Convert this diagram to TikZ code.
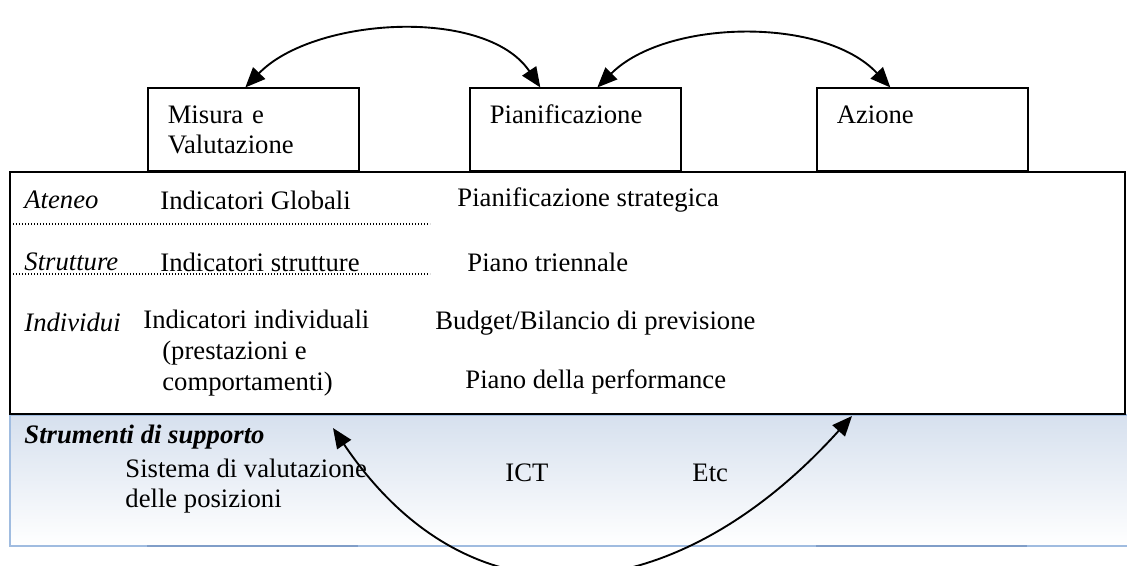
\documentclass[tikz,border=0pt]{standalone}
\usepackage{fontspec}
\setmainfont{Liberation Serif}
\usetikzlibrary{arrows.meta,calc}
\definecolor{bandtop}{RGB}{214,224,238}
\definecolor{bandline}{RGB}{160,188,224}
\definecolor{bandedge}{RGB}{128,158,200}
\newcommand{\fs}{\fontsize{12}{13.8}\selectfont}

\tikzset{
  txt/.style={anchor=west,inner sep=0pt,font=\fs,align=left},
  lvl/.style={txt,font=\fs\itshape},
  topbox/.style={draw,line width=0.7pt,anchor=south west,minimum width=95pt,
    minimum height=37.35pt,text width=77pt,inner xsep=9pt,inner ysep=0pt,
    align=left,font=\fs},
  link/.style={line width=0.85pt,
    {Triangle[length=9pt,width=7.5pt]}-{Triangle[length=9pt,width=7.5pt]}},
}

\begin{document}
\begin{tikzpicture}[x=0.45pt,y=-0.45pt]
  \useasboundingbox (0,0) rectangle (1127,565);
  \clip (0,0) rectangle (1127,565);
  % strumenti di supporto
  \shade[top color=bandtop,bottom color=white] (10,414) rectangle (1127,546);
  \draw[bandline,line width=0.9pt] (1127,415) -- (10,415) -- (10,546) -- (1127,546);
  \foreach \xa/\xb in {147/358,816/1027}
    \draw[bandedge,line width=0.9pt] (\xa,546) -- (\xb,546);
  % cornice principale
  \draw[line width=0.9pt] (10,172) rectangle (1125,414);
  \foreach \y in {224,274}
    \draw[line width=0.6pt,dash pattern=on 0.45pt off 0.9pt] (10,\y) -- (430,\y);
  % fasi
  \node[topbox] (mis) at (147,172) {Misura e\\Valutazione};
  \node[topbox] (pian) at (469,172) {Pianificazione\\~};
  \node[topbox] (az) at (816,172) {Azione\\~};
  \draw[link] ($(pian.north)+(-35,0)$) to[out=124,in=46,looseness=0.85] ($(mis.north)+(-8,0)$);
  \draw[link] ($(pian.north)+(22,0)$) to[out=45,in=133,looseness=0.85] ($(az.north)+(-32,0)$);
  % livelli
  \node[lvl] (aten) at (24,200) {Ateneo};
  \node[txt] (iglob) at (160,200) {Indicatori Globali};
  \node[txt] (pstrat) at (457,200) {Pianificazione strategica};
  \node[lvl] (strut) at (24,262) {Strutture};
  \node[txt] (istrut) at (160,262) {Indicatori strutture};
  \node[txt] (ptrien) at (467,262) {Piano triennale};
  \node[lvl] (indiv) at (24,322) {Individui};
  \node[txt] (iindiv) at (143,353) {Indicatori individuali\\
    \hspace*{8.5pt}(prestazioni e\\\hspace*{8.5pt}comportamenti)};
  \node[txt] (budget) at (435,323) {Budget/Bilancio di previsione};
  \node[txt] (pperf) at (465,382) {Piano della performance};
  % strumenti
  \node[txt,font=\fs\bfseries\itshape] (strum) at (24,437) {Strumenti di supporto};
  \node[txt] (sval) at (125,486) {Sistema di valutazione\\delle posizioni};
  \node[txt] (ict) at (505,473) {ICT};
  \node[txt] (etc) at (692,473) {Etc};
  \coordinate (supa) at (333,428);
  \coordinate (supb) at (852,416);
  \draw[link] (supa) to[out=-56,in=-132,looseness=1.25] (supb);
\end{tikzpicture}
\end{document}
